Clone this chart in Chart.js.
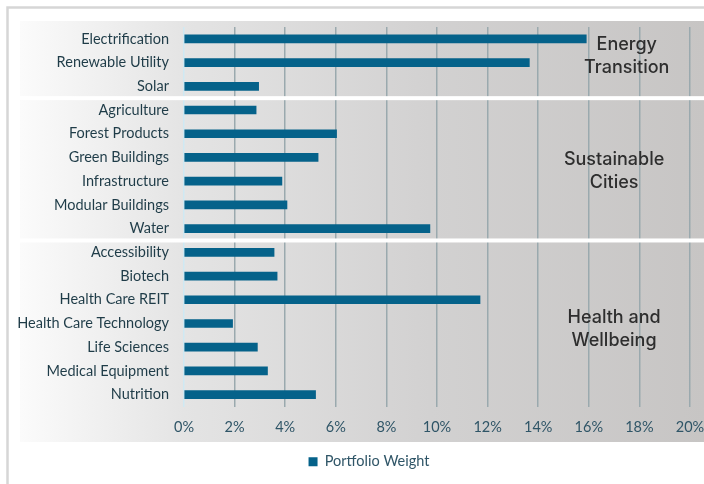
<!DOCTYPE html>
<html><head><meta charset="utf-8">
<script src="https://cdn.jsdelivr.net/npm/chart.js@4.4.1/dist/chart.umd.min.js"></script>
<style>html,body{margin:0;padding:0;background:#fff;}#wrap{width:704px;height:484px;position:relative}</style>
</head><body><div id="wrap"><canvas id="c" width="704" height="484"></canvas></div>
<script>
const categories = ["Electrification","Renewable Utility","Solar","Agriculture","Forest Products","Green Buildings","Infrastructure","Modular Buildings","Water","Accessibility","Biotech","Health Care REIT","Health Care Technology","Life Sciences","Medical Equipment","Nutrition"];
const weights = [15.9,13.65,2.95,2.85,6.03,5.3,3.87,4.07,9.72,3.56,3.68,11.7,1.92,2.9,3.3,5.2];
const seriesName = "Portfolio Weight";
const groupLabels = [["Energy","Transition"],["Sustainable","Cities"],["Health and","Wellbeing"]];
const groupFirstIndex = [0,3,9];
const xTickValues = [0,2,4,6,8,10,12,14,16,18,20];

const deco = {
  id:'deco',
  afterLayout(chart){ chart.scales.y.left = 0; },
  beforeDraw(chart){
    const ctx = chart.ctx;
    ctx.save();
    ctx.fillStyle='#fff'; ctx.fillRect(0,0,704,484);
    ctx.strokeStyle='#d6d6d6'; ctx.lineWidth=2.5;
    ctx.beginPath(); ctx.moveTo(7.5,484); ctx.lineTo(7.5,7.5); ctx.lineTo(704,7.5); ctx.stroke();
    const g = ctx.createLinearGradient(20,0,704,0);
    g.addColorStop(0,'#fbfbfb'); g.addColorStop(0.24,'#e4e4e4'); g.addColorStop(0.6,'#d2d1d1'); g.addColorStop(1,'#c7c5c4');
    ctx.fillStyle=g; ctx.fillRect(20,21,684,421);
    ctx.restore();
  },
  beforeDatasetsDraw(chart){
    const ctx = chart.ctx, y = chart.scales.y;
    ctx.save(); ctx.fillStyle='#ffffff';
    groupFirstIndex.slice(1).forEach(i=>{
      const yy=(y.getPixelForValue(i-1)+y.getPixelForValue(i))/2;
      ctx.fillRect(20,yy-2,684,4);
    });
    ctx.restore();
  },
  afterDraw(chart){
    const ctx = chart.ctx, x = chart.scales.x, y = chart.scales.y;
    const anchors = [[17.5,0.73],[17.0,5.56],[17.0,12.24]];
    ctx.save();
    ctx.fillStyle='#2e2e2e'; ctx.font='500 18px Inter'; ctx.textAlign='center'; ctx.textBaseline='middle';
    groupLabels.forEach((lines,k)=>{
      const cx = x.getPixelForValue(anchors[k][0]);
      const step = y.getPixelForValue(1)-y.getPixelForValue(0);
      const cy = y.getPixelForValue(0)+anchors[k][1]*step;
      ctx.fillText(lines[0],cx,cy-11.5);
      ctx.fillText(lines[1],cx,cy+11.5);
    });
    ctx.restore();
  }
};

new Chart(document.getElementById('c'),{
  type:'bar',
  data:{labels:categories,datasets:[{label:seriesName,data:weights,backgroundColor:'#05628a',borderWidth:0,barThickness:8}]},
  options:{
    indexAxis:'y',responsive:false,animation:false,
    layout:{padding:{left:48,right:14,top:27,bottom:5}},
    plugins:{
      legend:{position:'bottom',labels:{boxWidth:9,boxHeight:9,padding:10,color:'#2f5567',font:{family:'Lato',size:14.5}}},
      tooltip:{enabled:false}
    },
    scales:{
      x:{min:0,max:20,
        afterBuildTicks(s){s.ticks=xTickValues.map(v=>({value:v}));},
        afterFit(s){s.height=38;s.paddingLeft=0;s.paddingRight=0;},
        grid:{drawTicks:false,lineWidth:1.5,color:c=>c.tick&&c.tick.value===0?'#cfe9f3':'#9aa9ae'},
        border:{display:false},
        ticks:{padding:12,color:'#2f5567',font:{family:'Lato',size:14.5},callback:v=>v+'%'}},
      y:{afterFit(s){s.width=136;s.paddingTop=0;s.paddingBottom=0;},
        grid:{display:false,drawTicks:false},border:{display:false},
        ticks:{padding:15,color:'#1f3c48',font:{family:'Lato',size:14.5},autoSkip:false}}
    }
  },
  plugins:[deco]
});
</script></body></html>
